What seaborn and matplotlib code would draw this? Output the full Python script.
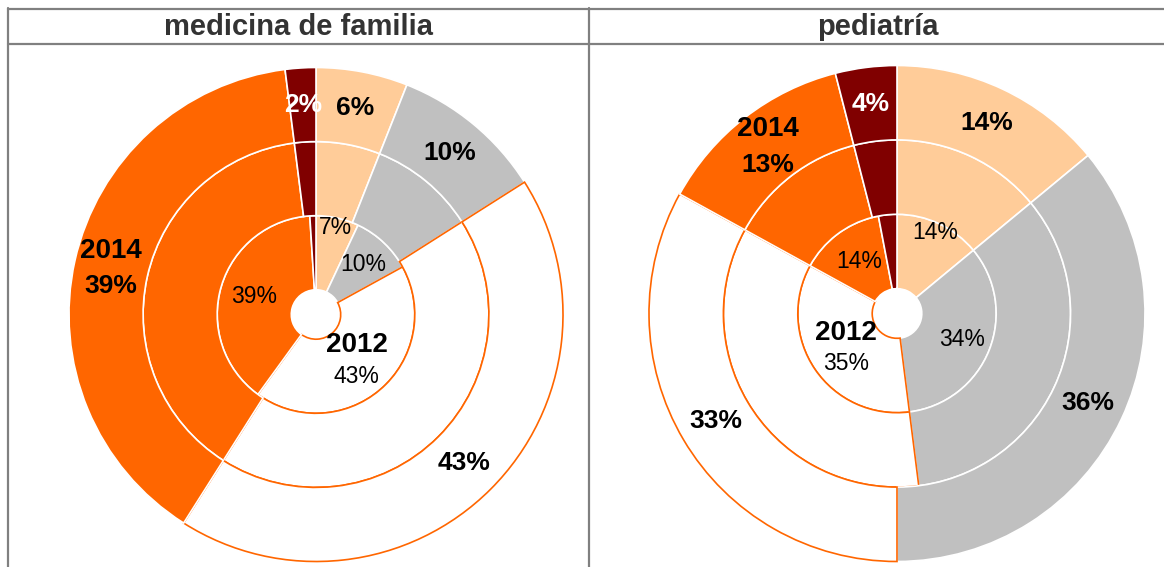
import numpy as np
import matplotlib.pyplot as plt
import seaborn as sns
from matplotlib.lines import Line2D

sns.set_style("white")
plt.rcParams['font.family'] = ['Liberation Sans', 'DejaVu Sans']

# ---- data (percent of total, clockwise from 12 o'clock) ----
panel_titles = ["medicina de familia", "pediatría"]
years = ["2012", "2014"]

mf_2012 = [7, 10, 43, 39, 1]
mf_mid = [6, 10, 43, 39, 2]      # unlabelled middle ring
mf_2014 = [6, 10, 43, 39, 2]
ped_2012 = [14, 34, 35, 14, 3]
ped_mid = [14, 34, 35, 13, 4]    # unlabelled middle ring
ped_2014 = [14, 36, 33, 13, 4]

slice_colors = ["#FFCC99", "#C0C0C0", "#FFFFFF", "#FF6600", "#800000"]
ORANGE = "#FF6600"
GRID = "#808080"

W, H = 1164, 567
fig = plt.figure(figsize=(W / 100, H / 100), dpi=100)


def px_axes(cx, cy, r):
    return fig.add_axes([(cx - r) / W, (H - cy - r) / H, 2 * r / W, 2 * r / H])


def ring(ax, values, radius, width):
    wedges, _ = ax.pie(values, radius=radius, startangle=90, counterclock=False,
                       colors=slice_colors,
                       wedgeprops=dict(width=width, linewidth=1.2, edgecolor="white"))
    for w, c in zip(wedges, slice_colors):
        if c == "#FFFFFF":
            w.set_edgecolor(ORANGE)
    return wedges


def mid_angles(values):
    v = np.array(values, dtype=float)
    cum = np.cumsum(v) - v / 2
    return np.deg2rad(90 - 360 * cum / v.sum())


def donut(ax, inner, middle, outer):
    ring(ax, inner, 0.40, 0.30)
    ring(ax, middle, 0.70, 0.30)
    ring(ax, outer, 1.00, 0.30)

    # inner labels, normal weight
    inner_r = [0.36, 0.28, 0.25, 0.26, 0.25]
    for i, (v, a) in enumerate(zip(inner, mid_angles(inner))):
        if i == 4:
            continue
        x, y = inner_r[i] * np.cos(a), inner_r[i] * np.sin(a)
        if i == 2:
            ax.text(x, y + 0.063, years[0], ha="center", va="center",
                    fontsize=20, fontweight="bold", color="black")
            ax.text(x, y - 0.063, f"{v}%", ha="center", va="center",
                    fontsize=16.5, color="black")
        else:
            ax.text(x, y, f"{v}%", ha="center", va="center", fontsize=16.5, color="black")

    # outer labels, bold
    for i, (v, a) in enumerate(zip(outer, mid_angles(outer))):
        x, y = 0.85 * np.cos(a), 0.85 * np.sin(a)
        col = "white" if i == 4 else "black"
        if i == 3:
            ax.text(x, y + 0.071, years[1], ha="center", va="center",
                    fontsize=20, fontweight="bold", color=col)
            ax.text(x, y - 0.071, f"{v}%", ha="center", va="center",
                    fontsize=19, fontweight="bold", color=col)
        else:
            ax.text(x, y, f"{v}%", ha="center", va="center",
                    fontsize=19, fontweight="bold", color=col)

    ax.set_xlim(-1.0, 1.0)
    ax.set_ylim(-1.0, 1.0)
    ax.set_aspect("equal")
    ax.axis("off")


ax1 = px_axes(316, 314.5, 247)
donut(ax1, mf_2012, mf_mid, mf_2014)
ax2 = px_axes(897, 313.5, 248)
donut(ax2, ped_2012, ped_mid, ped_2014)

# table-like frame around the two panels
lines = [((7.5, 9), (1164, 9)), ((7.5, 44), (1164, 44)),
         ((7.5, 8), (7.5, 567)), ((588.5, 8), (588.5, 567))]
for (x0, y0), (x1, y1) in lines:
    fig.add_artist(Line2D([x0 / W, x1 / W], [1 - y0 / H, 1 - y1 / H],
                          color=GRID, linewidth=1.6, transform=fig.transFigure))

fig.text(298 / W, 1 - 27 / H, panel_titles[0], ha="center", va="center",
         fontsize=21, fontweight="bold", color="#333333")
fig.text(878 / W, 1 - 27 / H, panel_titles[1], ha="center", va="center",
         fontsize=21, fontweight="bold", color="#333333")

fig.savefig("out.png", dpi=100)
